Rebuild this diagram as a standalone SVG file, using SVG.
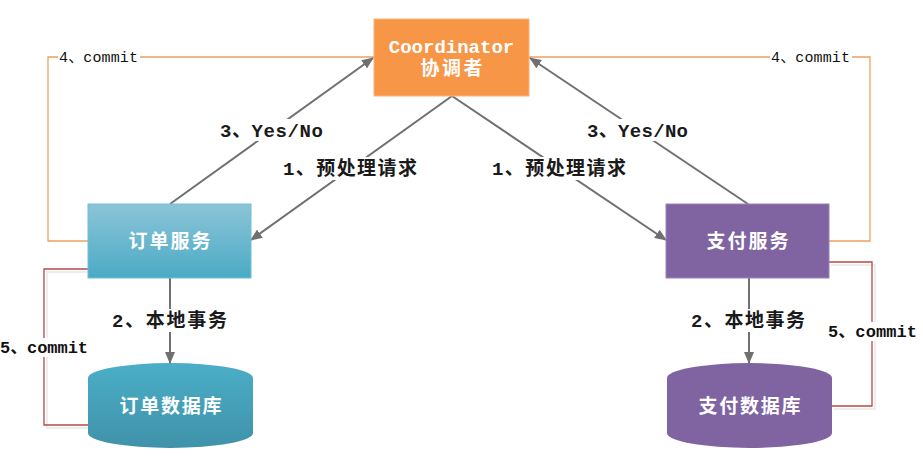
<svg xmlns="http://www.w3.org/2000/svg" width="923" height="471" viewBox="0 0 923 471">
<defs>
<linearGradient id="gBlue" x1="0" y1="0" x2="0" y2="1"><stop offset="0" stop-color="#8CC4D7"/><stop offset="1" stop-color="#4AABC5"/></linearGradient>
<linearGradient id="gBlueDb" x1="0" y1="0" x2="0" y2="1"><stop offset="0" stop-color="#4BAEC8"/><stop offset="1" stop-color="#3F92A9"/></linearGradient>
<marker id="ah" markerWidth="12" markerHeight="10" refX="11" refY="5" orient="auto" markerUnits="userSpaceOnUse"><path d="M0,0 L12,5 L0,10 Z" fill="#707070"/></marker>
<style>
.arr{stroke:#707070;stroke-width:2;fill:none;marker-end:url(#ah)}
.org{stroke:#F0A060;stroke-width:1.3;fill:none}
.red{stroke:#B8484A;stroke-width:1.3;fill:none}
.shd{stroke:#EDEDED;stroke-width:2;fill:none}
.lbl{font-family:"Liberation Mono","Noto Sans CJK SC",monospace;font-size:19px;font-weight:bold;fill:#1a1a1a}
.sm{font-family:"Liberation Mono","Noto Sans CJK SC",monospace;font-size:15px;fill:#111}
.smb{font-family:"Liberation Mono","Noto Sans CJK SC",monospace;font-size:17px;font-weight:bold;fill:#111}
.nt{font-family:"Liberation Mono","Noto Sans CJK SC",monospace;font-size:19px;font-weight:bold;fill:#fff;text-anchor:middle}
.bg{fill:#fff}
</style>
</defs>
<rect width="923" height="471" fill="#fff"/>
<g id="connectors">
<polyline class="shd" points="90,272 47,272 47,428 90,428"/>
<polyline class="shd" points="831,265 875,265 875,409 834,409"/>
<polyline class="org" points="88,241 48,241 48,57 374,57"/>
<polyline class="org" points="529,57 870,57 870,241 829,241"/>
<polyline class="red" points="88,269 44,269 44,425 88,425"/>
<polyline class="red" points="829,262 872,262 872,406 832,406"/>
<line class="arr" x1="170" y1="204" x2="373" y2="58"/>
<line class="arr" x1="452" y1="96" x2="251" y2="240"/>
<line class="arr" x1="452" y1="96" x2="666" y2="240"/>
<line class="arr" x1="748" y1="204" x2="530" y2="58"/>
<line class="arr" x1="170" y1="278" x2="170" y2="363"/>
<line class="arr" x1="749" y1="278" x2="749" y2="363"/>
<rect class="bg" x="58" y="49" width="82" height="17"/>
<text class="sm" x="59" y="62" textLength="79" lengthAdjust="spacing">4、commit</text>
<rect class="bg" x="770" y="49" width="82" height="17"/>
<text class="sm" x="771" y="62" textLength="79" lengthAdjust="spacing">4、commit</text>
<rect class="bg" x="0" y="338" width="89" height="19"/>
<text class="smb" x="0" y="353" textLength="88" lengthAdjust="spacing">5、commit</text>
<rect class="bg" x="827" y="322" width="92" height="19"/>
<text class="smb" x="828" y="337" textLength="89" lengthAdjust="spacing">5、commit</text>
<rect class="bg" x="218" y="119" width="108" height="22"/>
<text class="lbl" x="220" y="137" textLength="103" lengthAdjust="spacing">3、Yes/No</text>
<rect class="bg" x="585" y="119" width="106" height="22"/>
<text class="lbl" x="587" y="137" textLength="101" lengthAdjust="spacing">3、Yes/No</text>
<rect class="bg" x="281" y="157" width="138" height="23"/>
<text class="lbl" x="283" y="175" textLength="134" lengthAdjust="spacing">1、预处理请求</text>
<rect class="bg" x="490" y="157" width="138" height="23"/>
<text class="lbl" x="492" y="175" textLength="134" lengthAdjust="spacing">1、预处理请求</text>
<rect class="bg" x="110" y="309" width="120" height="23"/>
<text class="lbl" x="112" y="327" textLength="115" lengthAdjust="spacing">2、本地事务</text>
<rect class="bg" x="689" y="309" width="119" height="23"/>
<text class="lbl" x="691" y="327" textLength="114" lengthAdjust="spacing">2、本地事务</text>
</g>
<g id="coordinator">
<rect x="374" y="19" width="155" height="77" fill="#F79646" stroke="#FAB27F" stroke-width="1"/>
<text class="nt" x="451.5" y="53">Coordinator</text>
<text class="nt" x="451.5" y="75" textLength="62" lengthAdjust="spacing">协调者</text>
</g>
<g id="order-service">
<rect x="88" y="204" width="163" height="74" fill="url(#gBlue)" stroke="#6FC0D6" stroke-width="1"/>
<text class="nt" x="169.5" y="248" textLength="82" lengthAdjust="spacing">订单服务</text>
</g>
<g id="pay-service">
<rect x="666" y="204" width="163" height="74" fill="#8064A2" stroke="#9A82B8" stroke-width="1"/>
<text class="nt" x="747.5" y="248" textLength="82" lengthAdjust="spacing">支付服务</text>
</g>
<g id="order-db">
<path d="M88,378 A82.5,15 0 0 1 253,378 V433 A82.5,15 0 0 1 88,433 Z" fill="url(#gBlueDb)"/>
<text class="nt" x="170.5" y="413" textLength="102" lengthAdjust="spacing">订单数据库</text>
</g>
<g id="pay-db">
<path d="M667,378 A82.5,15 0 0 1 832,378 V433 A82.5,15 0 0 1 667,433 Z" fill="#8064A2"/>
<text class="nt" x="749.5" y="413" textLength="102" lengthAdjust="spacing">支付数据库</text>
</g>
</svg>
